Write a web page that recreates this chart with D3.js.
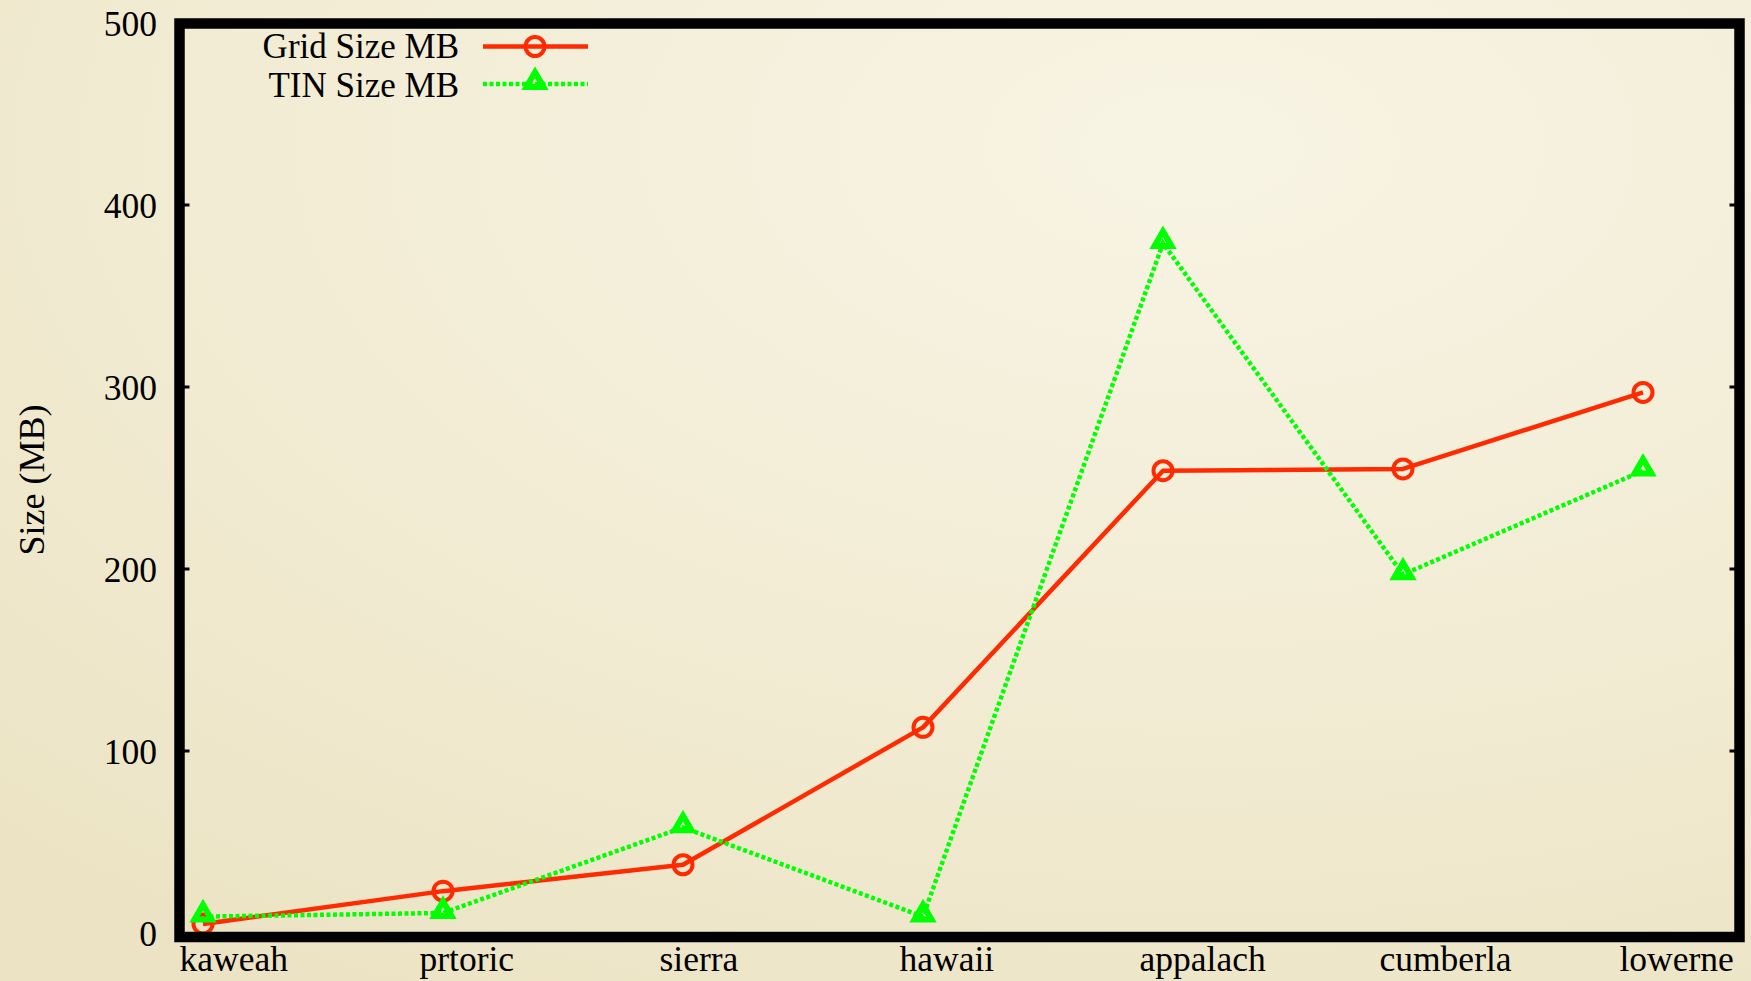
<!DOCTYPE html>
<html>
<head>
<meta charset="utf-8">
<script src="https://cdn.jsdelivr.net/npm/d3@7"></script>
<style>
  html, body { margin: 0; padding: 0; overflow: hidden; }
  body { width: 1751px; height: 981px; }
  text { font-family: "Liberation Serif", "Times New Roman", serif; fill: #000; }
</style>
</head>
<body>
<svg id="chart" width="1751" height="981"></svg>
<script>
const categories = ["kaweah", "prtoric", "sierra", "hawaii", "appalach", "cumberla", "lowerne"];
const gridSizeMB = [5, 23, 37.5, 113, 254, 255, 297];
const tinSizeMB  = [9, 11, 58, 9, 379, 197, 254];
const yTicks = [0, 100, 200, 300, 400, 500];
const seriesNames = ["Grid Size MB", "TIN Size MB"];
const yLabel = "Size (MB)";

const svg = d3.select("#chart");
const W = 1751, H = 981;
const FS = "35.5px";

// background gradient
const defs = svg.append("defs");
const rg = defs.append("radialGradient").attr("id", "bg")
  .attr("cx", "68%").attr("cy", "15%").attr("r", "100%");
rg.append("stop").attr("offset", "0%").attr("stop-color", "#f8f4e4");
rg.append("stop").attr("offset", "55%").attr("stop-color", "#f2ecd4");
rg.append("stop").attr("offset", "100%").attr("stop-color", "#ebe3c3");
svg.append("rect").attr("width", W).attr("height", H).attr("fill", "url(#bg)");

const frame = { left: 179.5, right: 1739.5, top: 23.5, bottom: 937 };

const x = d3.scalePoint().domain(categories).range([203, 1643]);
const y = d3.scaleLinear().domain([0, 500]).range([933, 23]);

// y tick labels
const yAxis = d3.axisLeft(y).tickValues(yTicks).tickSize(0).tickPadding(0).tickFormat(d3.format("d"));
const yg = svg.append("g").attr("transform", "translate(157,0)").call(yAxis);
yg.select(".domain").remove();
yg.selectAll("text").style("font-size", FS).style("font-family", "Liberation Serif")
  .attr("fill", "#000").attr("dy", "0.34em");

// inward tick notches on left and right frame
svg.append("g").selectAll("line").data(yTicks.slice(1, -1)).join("line")
  .attr("x1", frame.left).attr("x2", frame.left + 10)
  .attr("y1", d => y(d)).attr("y2", d => y(d))
  .attr("stroke", "#000").attr("stroke-width", 3);
svg.append("g").selectAll("line").data(yTicks.slice(1, -1)).join("line")
  .attr("x1", frame.right).attr("x2", frame.right - 10)
  .attr("y1", d => y(d)).attr("y2", d => y(d))
  .attr("stroke", "#000").attr("stroke-width", 3);

// x labels
const xAxis = d3.axisBottom(x).tickSize(0).tickPadding(0);
const xg = svg.append("g").attr("transform", "translate(0,971)").call(xAxis);
xg.select(".domain").remove();
xg.selectAll("text").style("font-size", FS).style("font-family", "Liberation Serif")
  .attr("fill", "#000").attr("text-anchor", "start").attr("x", -24).attr("y", 0).attr("dy", 0);

// y axis title
svg.append("text")
  .attr("transform", "translate(44,480) rotate(-90)")
  .attr("text-anchor", "middle")
  .style("font-size", "36px")
  .text(yLabel);

// lines
const line = d3.line().x((d, i) => x(categories[i])).y(d => y(d));
const RED = "#ff2a00", GREEN = "#00ff00";

const triPath = "M0,-9.8 L8.5,4.9 L-8.5,4.9 Z";

svg.append("path").datum(gridSizeMB).attr("d", line)
  .attr("fill", "none").attr("stroke", RED).attr("stroke-width", 4.5).attr("stroke-linejoin", "round");
svg.append("path").datum(tinSizeMB).attr("d", line)
  .attr("fill", "none").attr("stroke", GREEN).attr("stroke-width", 4.5)
  .attr("stroke-dasharray", "4,2.5");

svg.append("g").selectAll("circle").data(gridSizeMB).join("circle")
  .attr("cx", (d, i) => x(categories[i])).attr("cy", d => y(d))
  .attr("r", 9.5).attr("fill", "none").attr("stroke", RED).attr("stroke-width", 4);

svg.append("g").selectAll("path").data(tinSizeMB).join("path")
  .attr("transform", (d, i) => `translate(${x(categories[i])},${y(d) - 2})`)
  .attr("d", triPath).attr("fill", "none").attr("stroke", GREEN)
  .attr("stroke-width", 6).attr("stroke-linejoin", "miter");

// frame
svg.append("rect")
  .attr("x", frame.left).attr("y", frame.top)
  .attr("width", frame.right - frame.left).attr("height", frame.bottom - frame.top)
  .attr("fill", "none").attr("stroke", "#000").attr("stroke-width", 10.5);

// legend
const leg = svg.append("g");
const rowY = [57.5, 96.5];
leg.selectAll("text").data(seriesNames).join("text")
  .attr("x", 459).attr("y", (d, i) => rowY[i]).attr("text-anchor", "end")
  .style("font-size", "35px").text(d => d);
leg.append("line").attr("x1", 483).attr("x2", 588).attr("y1", rowY[0] - 11).attr("y2", rowY[0] - 11)
  .attr("stroke", RED).attr("stroke-width", 4.5);
leg.append("circle").attr("cx", 535).attr("cy", rowY[0] - 11).attr("r", 9.5)
  .attr("fill", "none").attr("stroke", RED).attr("stroke-width", 4);
leg.append("line").attr("x1", 483).attr("x2", 588).attr("y1", rowY[1] - 12.5).attr("y2", rowY[1] - 12.5)
  .attr("stroke", GREEN).attr("stroke-width", 4.5).attr("stroke-dasharray", "4,2.5");
leg.append("path").attr("transform", `translate(535,${rowY[1] - 14.5})`).attr("d", triPath)
  .attr("fill", "none").attr("stroke", GREEN).attr("stroke-width", 6);
</script>
</body>
</html>
